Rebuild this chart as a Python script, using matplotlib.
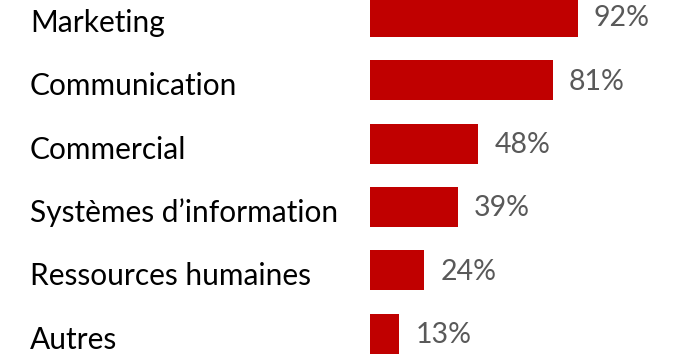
import matplotlib
matplotlib.use("Agg")
import matplotlib.pyplot as plt
from matplotlib import transforms

categories = ["Marketing", "Communication", "Commercial", "Systèmes d’information",
              "Ressources humaines", "Autres"]
values = [92, 81, 48, 39, 24, 13]
value_labels = ["92%", "81%", "48%", "39%", "24%", "13%"]

W, H = 677, 354
fig = plt.figure(figsize=(W / 100, H / 100), dpi=100)
top_px, bot_px = -14.9, 365.4
ax = fig.add_axes([370 / W, (H - bot_px) / H, 226 / W, (bot_px - top_px) / H])
ax.set_xlim(0, 100)
ax.set_ylim(len(categories) - 0.5, -0.5)
ax.axis("off")

ypos = list(range(len(categories)))
ax.barh(ypos, values, height=0.63, color="#C00000")

font = "Lato"
lab_off = transforms.offset_copy(ax.transData, fig=fig, x=0, y=-6, units="dots")
for y, cat in zip(ypos, categories):
    tr = transforms.blended_transform_factory(fig.transFigure, lab_off)
    ax.text(30 / W, y, cat, transform=tr, ha="left", va="center",
            fontsize=21.5, family=font, color="#000000", clip_on=False)

val_off = transforms.offset_copy(ax.transData, fig=fig, x=16, y=-1.5, units="dots")
for y, v, s in zip(ypos, values, value_labels):
    ax.text(v, y, s, transform=val_off, ha="left", va="center",
            fontsize=20.5, family=font, color="#595959", clip_on=False)

fig.savefig("out.png", dpi=100)
